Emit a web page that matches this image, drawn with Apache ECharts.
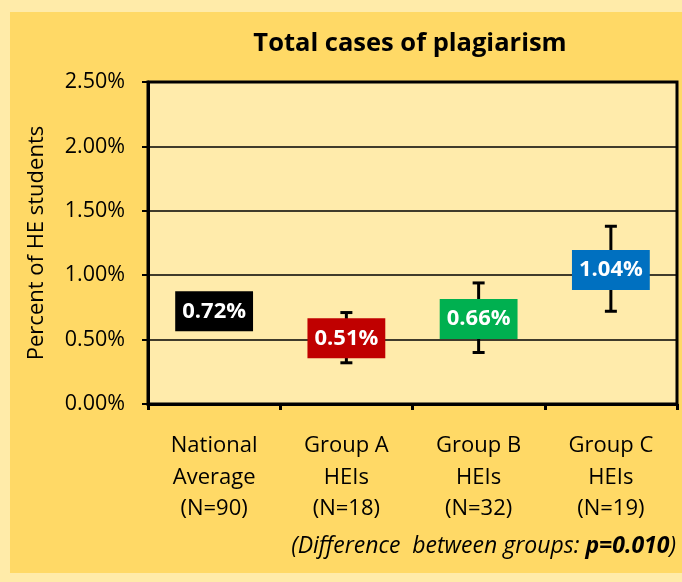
<!DOCTYPE html>
<html>
<head>
<meta charset="utf-8">
<script src="https://cdn.jsdelivr.net/npm/echarts@6/dist/echarts.min.js"></script>
<style>
  html, body { margin: 0; padding: 0; background: #FFEBA9; }
  #chart { width: 682px; height: 582px; }
</style>
</head>
<body>
<div id="chart"></div>
<script>
// categories and values (percent of HE students)
const categories = ['National\nAverage\n(N=90)', 'Group A\nHEIs\n(N=18)', 'Group B\nHEIs\n(N=32)', 'Group C\nHEIs\n(N=19)']
const values = [0.72, 0.51, 0.66, 1.04]
// error bar ends (no bar for national average)
const errLow = [null, 0.32, 0.40, 0.72]
const errHigh = [null, 0.71, 0.94, 1.38]
const yMin = 0
const yMax = 2.5
const yStep = 0.5

const boxColors = ['#000000', '#C00000', '#00B050', '#0070C0']
const font = '"Open Sans", "Noto Sans", sans-serif'

const chart = echarts.init(document.getElementById('chart'))

const errData = categories.map((c, i) => [i, errLow[i], errHigh[i]]).filter(d => d[1] != null)

const option = {
  backgroundColor: '#FFEBA9',
  animation: false,
  textStyle: { fontFamily: font },
  graphic: [
    {
      type: 'rect', z: -10, silent: true,
      shape: { x: 10, y: 12, width: 680, height: 561 },
      style: { fill: '#FFD966' }
    },
    {
      type: 'text', z: 10,
      right: 6, top: 535,
      style: {
        text: '{i|(Difference  between groups: }{b|p=0.010}{i|)}',
        rich: {
          i: { fontFamily: font, fontStyle: 'italic', fontSize: 23, fill: '#000' },
          b: { fontFamily: font, fontStyle: 'italic', fontWeight: 'bold', fontSize: 23, fill: '#000' }
        }
      }
    }
  ],
  title: {
    text: 'Total cases of plagiarism',
    left: 405,
    top: 26,
    textAlign: 'center',
    textStyle: { fontFamily: font, fontWeight: 'bold', fontSize: 25.5, color: '#000' }
  },
  grid: {
    left: 148, right: 5, top: 82, bottom: 178,
    show: true,
    backgroundColor: '#FFEBAB',
    borderColor: '#000',
    borderWidth: 3
  },
  xAxis: {
    type: 'category',
    data: categories,
    boundaryGap: true,
    axisLine: { lineStyle: { color: '#000', width: 3 } },
    axisTick: { show: true, length: 6, lineStyle: { color: '#000', width: 3 } },
    axisLabel: {
      color: '#000', fontFamily: font, fontSize: 22, lineHeight: 31.5,
      margin: 26, interval: 0
    }
  },
  yAxis: {
    type: 'value',
    min: yMin, max: yMax, interval: yStep,
    name: 'Percent of HE students',
    nameLocation: 'middle',
    nameGap: 100,
    nameTextStyle: { color: '#000', fontFamily: font, fontSize: 22 },
    axisLine: { show: true, lineStyle: { color: '#000', width: 3 } },
    axisTick: { show: true, length: 6, lineStyle: { color: '#000', width: 2 } },
    axisLabel: {
      color: '#000', fontFamily: font, fontSize: 21.5, margin: 23,
      formatter: v => v.toFixed(2) + '%'
    },
    splitLine: { lineStyle: { color: '#000', width: 1.5 } }
  },
  series: [
    {
      type: 'custom',
      z: 2,
      data: errData,
      renderItem: (params, api) => {
        const x = api.value(0)
        const lo = api.coord([x, api.value(1)])
        const hi = api.coord([x, api.value(2)])
        const half = 6
        const st = { stroke: '#000', lineWidth: 3 }
        return {
          type: 'group',
          children: [
            { type: 'line', shape: { x1: lo[0], y1: lo[1], x2: hi[0], y2: hi[1] }, style: st },
            { type: 'line', shape: { x1: lo[0] - half, y1: lo[1], x2: lo[0] + half, y2: lo[1] }, style: st },
            { type: 'line', shape: { x1: hi[0] - half, y1: hi[1], x2: hi[0] + half, y2: hi[1] }, style: st }
          ]
        }
      }
    },
    {
      type: 'scatter',
      z: 5,
      symbolSize: 0,
      itemStyle: { opacity: 1 },
      emphasis: { disabled: true },
      data: values.map((v, i) => ({
        value: [i, v],
        label: { backgroundColor: boxColors[i] }
      })),
      label: {
        show: true,
        position: 'inside',
        formatter: p => p.value[1].toFixed(2) + '%',
        color: '#fff',
        opacity: 1,
        fontFamily: font,
        fontWeight: 'bold',
        fontSize: 22,
        padding: [10, 7, 8, 7]
      }
    }
  ]
}

chart.setOption(option)
</script>
</body>
</html>
